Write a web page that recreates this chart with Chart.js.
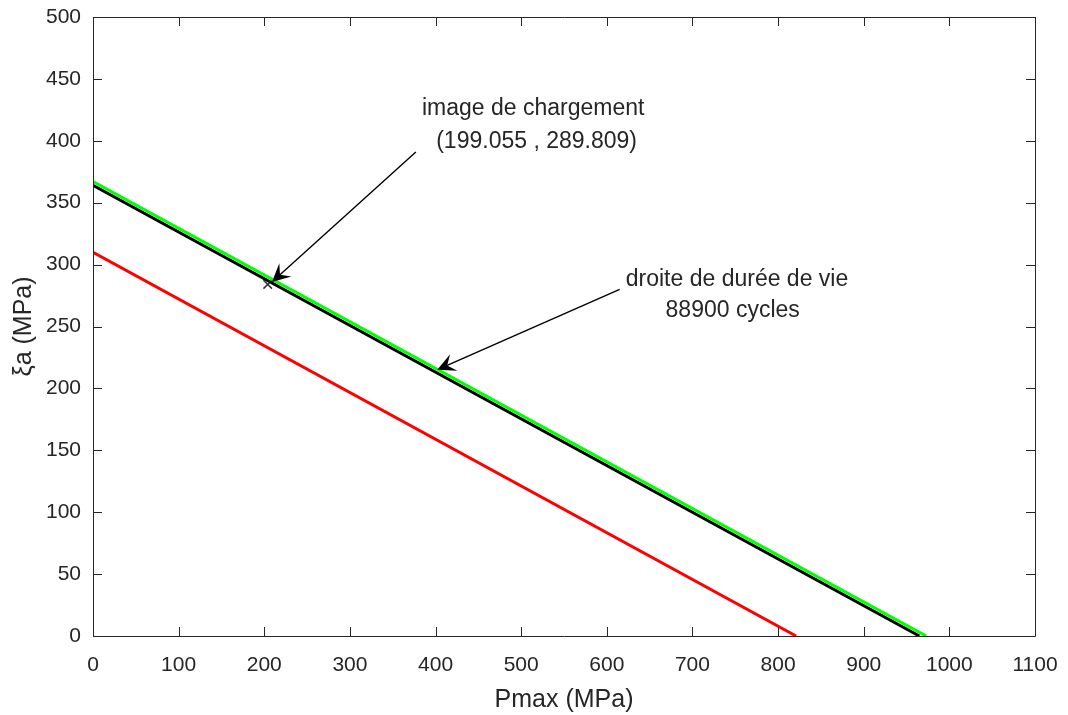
<!DOCTYPE html>
<html>
<head>
<meta charset="utf-8">
<script src="https://cdn.jsdelivr.net/npm/chart.js@4"></script>
<style>
  html, body { margin: 0; padding: 0; background: #ffffff; }
  #wrap { width: 1068px; height: 715px; }
</style>
</head>
<body>
<div id="wrap"><canvas id="chart" width="1068" height="715"></canvas></div>
<script>
// ── DATA ──────────────────────────────────────────────────────────
// line end points (Pmax, ξa) in MPa
const greenX = [0, 973];
const greenY = [367, 0];
const blackX = [0, 965];
const blackY = [364, 0];
const redX = [0, 821];
const redY = [310, 0];

// loading point marker
const pointX = [204];
const pointY = [284];

// annotations (data coords)
const noteText = ['image de chargement', '(199.055 , 289.809)', 'droite de durée de vie', '88900 cycles'];
const noteX = [514, 518, 752, 747];
const noteY = [426, 399, 288, 263];

const arrowFromX = [377, 615];
const arrowFromY = [391, 280];
const arrowToX = [209, 402];
const arrowToY = [286, 215];

const FONT = "'Liberation Sans', Arial, Helvetica, sans-serif";
const AXIS_COLOR = '#262626';

const toXY = (xs, ys) => xs.map((x, i) => ({ x, y: ys[i] }));

// force fixed axis box sizes so the plot area matches the reference
function fixBox(size) {
  return (s) => {
    if (s.isHorizontal()) s.height = size; else s.width = size;
    s.paddingTop = s.paddingBottom = s.paddingLeft = s.paddingRight = 0;
  };
}

// ── FRAME + ANNOTATIONS PLUGIN ───────────────────────────────────
const matlabFrame = {
  id: 'matlabFrame',
  afterDatasetsDraw(chart) {
    const { ctx, chartArea: a, scales: { x, y } } = chart;
    const tl = 9;
    ctx.save();
    ctx.strokeStyle = AXIS_COLOR;
    ctx.lineWidth = 1;
    ctx.beginPath();
    ctx.rect(a.left + 0.5, a.top + 0.5, a.right - a.left, a.bottom - a.top);
    ctx.stroke();

    // inward ticks on all four sides
    ctx.beginPath();
    x.ticks.forEach(t => {
      const px = Math.round(x.getPixelForValue(t.value)) + 0.5;
      ctx.moveTo(px, a.bottom); ctx.lineTo(px, a.bottom - tl);
      ctx.moveTo(px, a.top); ctx.lineTo(px, a.top + tl);
    });
    y.ticks.forEach(t => {
      const py = Math.round(y.getPixelForValue(t.value)) + 0.5;
      ctx.moveTo(a.left, py); ctx.lineTo(a.left + tl, py);
      ctx.moveTo(a.right, py); ctx.lineTo(a.right - tl, py);
    });
    ctx.stroke();

    // arrows
    ctx.strokeStyle = '#000';
    ctx.fillStyle = '#000';
    arrowFromX.forEach((_, i) => {
      const x0 = x.getPixelForValue(arrowFromX[i]), y0 = y.getPixelForValue(arrowFromY[i]);
      const x1 = x.getPixelForValue(arrowToX[i]), y1 = y.getPixelForValue(arrowToY[i]);
      const ang = Math.atan2(y1 - y0, x1 - x0);
      const hl = 18, hw = 9;
      const bx = x1 - hl * Math.cos(ang), by = y1 - hl * Math.sin(ang);
      const nx = x1 - hl * 0.6 * Math.cos(ang), ny = y1 - hl * 0.6 * Math.sin(ang);
      ctx.lineWidth = 1.4;
      ctx.beginPath();
      ctx.moveTo(x0, y0); ctx.lineTo(nx, ny);
      ctx.stroke();
      ctx.beginPath();
      ctx.moveTo(x1, y1);
      ctx.lineTo(bx - hw * Math.sin(ang), by + hw * Math.cos(ang));
      ctx.lineTo(nx, ny);
      ctx.lineTo(bx + hw * Math.sin(ang), by - hw * Math.cos(ang));
      ctx.closePath();
      ctx.fill();
    });

    // text notes
    ctx.font = '23px ' + FONT;
    ctx.fillStyle = AXIS_COLOR;
    ctx.textAlign = 'center';
    ctx.textBaseline = 'middle';
    noteText.forEach((s, i) => {
      ctx.fillText(s, x.getPixelForValue(noteX[i]), y.getPixelForValue(noteY[i]));
    });
    ctx.restore();
  }
};

// ── CHART ─────────────────────────────────────────────────────────
new Chart(document.getElementById('chart').getContext('2d'), {
  type: 'scatter',
  data: {
    datasets: [
      { data: toXY(greenX, greenY), showLine: true, borderColor: '#00ff00', borderWidth: 3, pointRadius: 0 },
      { data: toXY(blackX, blackY), showLine: true, borderColor: '#000000', borderWidth: 3, pointRadius: 0 },
      { data: toXY(redX, redY), showLine: true, borderColor: '#ff0000', borderWidth: 3, pointRadius: 0 },
      { data: toXY(pointX, pointY), showLine: false, pointStyle: 'crossRot', pointRadius: 6,
        borderColor: '#333333', borderWidth: 1.5 },
    ]
  },
  options: {
    responsive: false,
    animation: false,
    layout: { padding: { top: 17, right: 33, left: 0, bottom: 0 } },
    plugins: { legend: { display: false }, tooltip: { enabled: false } },
    scales: {
      x: {
        type: 'linear', min: 0, max: 1100,
        afterFit: fixBox(79),
        grid: { display: false, drawTicks: false },
        border: { display: false },
        ticks: { stepSize: 100, padding: 17, color: AXIS_COLOR, font: { family: FONT, size: 21 }, maxRotation: 0,
                 callback: (v) => String(v) },
        title: { display: true, text: 'Pmax (MPa)', color: AXIS_COLOR, font: { family: FONT, size: 25 }, padding: { top: 0, bottom: 0 } }
      },
      y: {
        type: 'linear', min: 0, max: 500,
        afterFit: fixBox(93),
        grid: { display: false, drawTicks: false },
        border: { display: false },
        ticks: { stepSize: 50, padding: 12, color: AXIS_COLOR, font: { family: FONT, size: 21 },
                 callback: (v) => String(v) },
        title: { display: true, text: 'ξa (MPa)', color: AXIS_COLOR, font: { family: FONT, size: 25 }, padding: { top: 9, bottom: 0 } }
      }
    }
  },
  plugins: [matlabFrame]
});
</script>
</body>
</html>
